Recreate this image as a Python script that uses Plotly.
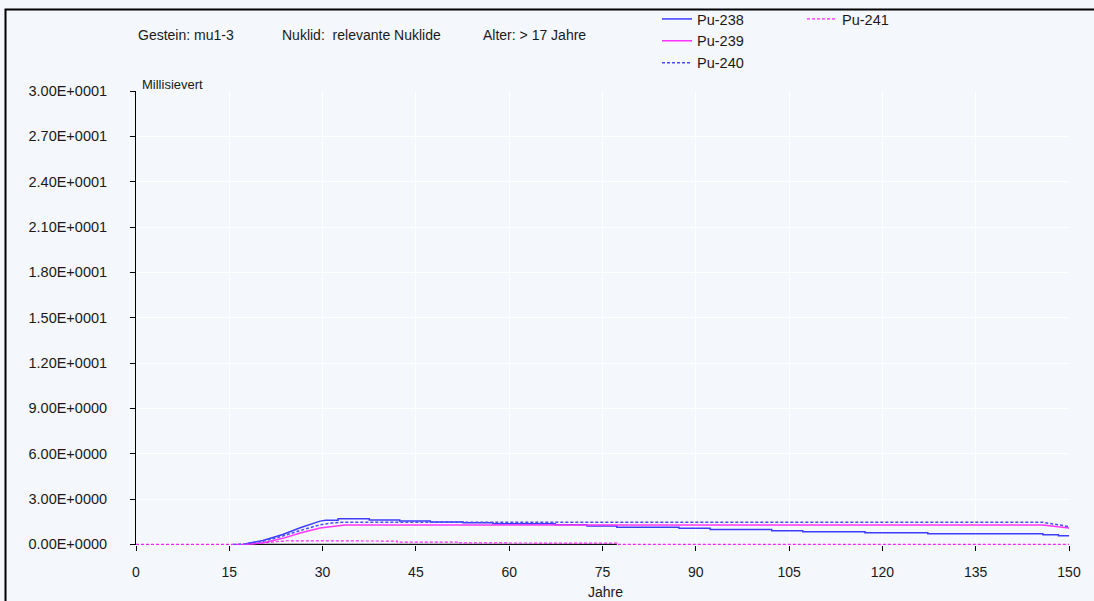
import plotly.graph_objects as go

# ---- data ----
x_pu238 = [17.5, 20.4, 23.6, 26.4, 29.6, 30.5, 32.5, 32.5, 37.5, 37.5, 42.4, 42.4, 47.3, 47.3,
           52.6, 52.6, 57.4, 57.4, 67.4, 67.4, 72.5, 72.5, 77.3, 77.3, 87.3, 87.3, 92.3, 92.3,
           102.2, 102.2, 107.2, 107.2, 117.2, 117.2, 127.3, 127.3, 145.8, 145.8, 148.3, 148.3, 150]
y_pu238 = [0.03, 0.26, 0.66, 1.10, 1.54, 1.60, 1.60, 1.70, 1.70, 1.62, 1.62, 1.55, 1.55, 1.48,
           1.48, 1.43, 1.43, 1.36, 1.36, 1.30, 1.30, 1.22, 1.22, 1.14, 1.14, 1.07, 1.07, 0.98,
           0.98, 0.91, 0.91, 0.84, 0.84, 0.77, 0.77, 0.71, 0.71, 0.64, 0.64, 0.57, 0.57]

x_pu239 = [17.5, 20.4, 23.6, 26.4, 29.6, 33.6, 145.8, 147.2, 148.5, 150]
y_pu239 = [0.0, 0.10, 0.40, 0.75, 1.08, 1.28, 1.28, 1.20, 1.13, 1.08]

x_pu240 = [15.6, 17.5, 20.4, 23.6, 26.4, 29.6, 31.5, 33.0, 145.8, 147.2, 148.5, 150]
y_pu240 = [0.0, 0.03, 0.20, 0.55, 0.92, 1.30, 1.42, 1.46, 1.46, 1.38, 1.30, 1.18]

x_pu241 = [0, 17.5, 20.4, 24.3, 42.0, 42.0, 52.0, 52.0, 77.3, 77.3, 150]
y_pu241 = [0.0, 0.0, 0.10, 0.24, 0.22, 0.15, 0.15, 0.10, 0.08, 0.0, 0.0]

x_other = [17.5, 77.3]
y_other = [0.0, 0.0]

y_tickvals = [0, 3, 6, 9, 12, 15, 18, 21, 24, 27, 30]
y_ticktext = ["0.00E+0000", "3.00E+0000", "6.00E+0000", "9.00E+0000", "1.20E+0001",
              "1.50E+0001", "1.80E+0001", "2.10E+0001", "2.40E+0001", "2.70E+0001", "3.00E+0001"]
x_tickvals = [0, 15, 30, 45, 60, 75, 90, 105, 120, 135, 150]

BG = "#f4f7fc"
FONT = "Liberation Sans"

fig = go.Figure()
fig.add_trace(go.Scatter(x=x_other, y=y_other, mode="lines", showlegend=False,
                         line=dict(color="#111111", width=1.5)))
fig.add_trace(go.Scatter(x=x_pu238, y=y_pu238, mode="lines", name="Pu-238",
                         line=dict(color="#3d3dff", width=1.5), legend="legend"))
fig.add_trace(go.Scatter(x=x_pu239, y=y_pu239, mode="lines", name="Pu-239",
                         line=dict(color="#ff33ff", width=1.5), legend="legend"))
fig.add_trace(go.Scatter(x=x_pu240, y=y_pu240, mode="lines", name="Pu-240",
                         line=dict(color="#4b4bff", width=1.5, dash="3px,2px"), legend="legend"))
fig.add_trace(go.Scatter(x=x_pu241, y=y_pu241, mode="lines", name="Pu-241",
                         line=dict(color="#ff22ff", width=1.2, dash="3px,2px"), legend="legend2"))

L, R, T, B = 136, 25, 91, 56
W, H = 1094, 601
pw, ph = W - L - R, H - T - B

def px_x(p):
    return (p - L) / pw

def px_y(p):
    return 1 + (T - p) / ph

fig.update_layout(
    width=W, height=H,
    margin=dict(l=L, r=R, t=T, b=B, pad=0, autoexpand=False),
    paper_bgcolor=BG, plot_bgcolor=BG,
    font=dict(family=FONT, size=14, color="#1a1a1a"),
    xaxis=dict(range=[0, 150], tickvals=x_tickvals, ticks="outside", ticklen=5,
               tickcolor="#000000", showgrid=True, gridcolor="#ffffff", gridwidth=1,
               zeroline=False, showline=False, ticklabelstandoff=9,
               tickfont=dict(family=FONT, size=14, color="#1a1a1a")),
    yaxis=dict(range=[-0.04, 30], tickvals=y_tickvals, ticktext=y_ticktext, ticks="outside",
               ticklen=5, tickcolor="#000000", showgrid=True, gridcolor="#ffffff", gridwidth=1,
               zeroline=False, showline=True, linecolor="#000000", linewidth=1,
               ticklabelstandoff=20,
               tickfont=dict(family=FONT, size=14.5, color="#1a1a1a")),
    legend=dict(x=657 / W, y=1.0 - 3 / H, xref="container", yref="container",
                xanchor="left", yanchor="top",
                bgcolor="rgba(0,0,0,0)", font=dict(family=FONT, size=14.5, color="#1a1a1a"),
                tracegroupgap=0, itemwidth=30),
    legend2=dict(x=802 / W, y=1.0 - 3 / H, xref="container", yref="container",
                 xanchor="left", yanchor="top",
                 bgcolor="rgba(0,0,0,0)", font=dict(family=FONT, size=14.5, color="#1a1a1a"),
                 itemwidth=30),
    showlegend=True,
)

annots = [
    ("Gestein: mu1-3", 136, 35, 14),
    ("Nuklid:\u00a0 relevante Nuklide", 280, 35, 14),
    ("Alter: &gt; 17 Jahre", 481, 35, 14),
    ("Millisievert", 140, 85, 13),
]
for text, ax, ay, fs in annots:
    fig.add_annotation(text=text, xref="paper", yref="paper", x=px_x(ax), y=px_y(ay),
                       xanchor="left", yanchor="middle", showarrow=False,
                       font=dict(family=FONT, size=fs, color="#1a1a1a"))
fig.add_annotation(text="Jahre", xref="paper", yref="paper", x=px_x(605), y=px_y(592),
                   xanchor="center", yanchor="middle", showarrow=False,
                   font=dict(family=FONT, size=14, color="#1a1a1a"))

# frame around the picture (left and top edges)
fig.add_shape(type="path", xref="paper", yref="paper",
              path=f"M {px_x(5.5)},{px_y(620)} L {px_x(5.5)},{px_y(9.5)} L {px_x(1100)},{px_y(9.5)}",
              line=dict(color="#000000", width=2))

fig.write_html("out.html")
